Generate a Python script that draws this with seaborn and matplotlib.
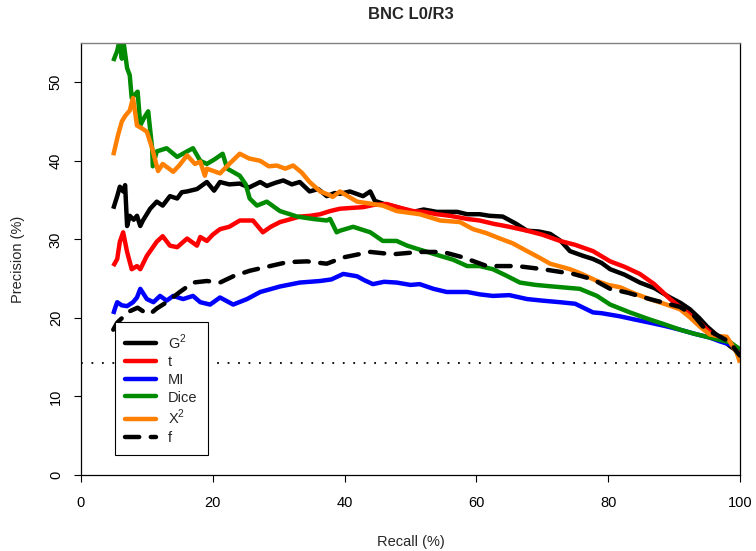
import matplotlib
matplotlib.use('Agg')
import matplotlib.pyplot as plt
from matplotlib.lines import Line2D
import seaborn as sns
import pandas as pd

# ── data (recall %, precision %) ────────────────────────────────────
g2_recall = [4.9, 5.5, 5.9, 6.4, 6.7, 7.0, 7.4, 8.0, 8.5, 9.0, 9.4, 10.5, 11.5, 12.4,
             13.5, 14.6, 15.3, 16.1, 17.6, 19.1, 20.2, 21.1, 22.5, 24.1, 25.5, 27.2,
             28.2, 29.5, 30.7, 32.0, 33.2, 34.7, 36.0, 37.3, 38.5, 39.3, 40.8, 42.8,
             43.9, 44.6, 46.0, 47.9, 50.4, 52.0, 54.0, 57.1, 58.6, 60.5, 62.0, 64.0,
             66.0, 67.7, 69.5, 71.2, 72.8, 74.2, 76.2, 77.7, 79.0, 80.3, 82.5, 84.8,
             87.0, 89.4, 91.0, 92.4, 93.8, 95.0, 96.5, 98.5, 99.7, 100]
g2_prec = [33.9, 35.5, 36.7, 36.1, 36.9, 31.7, 33.0, 32.5, 33.0, 31.7, 32.4, 33.9, 34.8,
           34.3, 35.5, 35.2, 36.0, 36.1, 36.4, 37.3, 36.2, 37.3, 37.0, 37.1, 36.6, 37.3,
           36.8, 37.2, 37.5, 37.0, 37.3, 36.1, 36.4, 35.5, 35.9, 35.8, 36.1, 35.5, 36.1,
           34.9, 34.5, 34.1, 33.5, 33.8, 33.5, 33.5, 33.2, 33.2, 33.0, 32.9, 32.0, 31.1,
           31.0, 30.7, 29.8, 28.5, 27.9, 27.5, 27.0, 26.2, 25.5, 24.5, 23.8, 22.6, 21.9,
           21.1, 20.0, 18.9, 17.8, 16.4, 15.7, 15.3]

t_recall = [4.9, 5.5, 5.9, 6.4, 7.0, 7.7, 8.5, 9.0, 10.0, 11.5, 12.4, 13.5, 14.6, 16.1,
            17.6, 18.1, 19.1, 20.0, 21.1, 22.5, 24.1, 26.1, 27.6, 28.8, 30.2, 31.5, 33.2,
            34.8, 36.3, 37.8, 39.3, 41.0, 42.8, 44.5, 46.4, 48.5, 50.4, 52.0, 54.0, 56.0,
            58.6, 60.5, 62.5, 65.0, 67.7, 70.0, 72.7, 75.0, 77.7, 80.3, 82.5, 84.8, 87.0,
            89.4, 91.5, 93.9, 95.4, 97.0, 98.5, 99.5, 100]
t_prec = [26.6, 27.5, 29.7, 30.9, 28.4, 26.2, 26.6, 26.2, 27.9, 29.7, 30.4, 29.2, 29.0,
          30.1, 29.2, 30.3, 29.8, 30.6, 31.3, 31.6, 32.4, 32.4, 30.9, 31.6, 32.2, 32.5,
          32.9, 33.0, 33.2, 33.6, 33.9, 34.0, 34.1, 34.4, 34.5, 34.0, 33.6, 33.5, 33.2,
          33.0, 32.6, 32.4, 32.0, 31.6, 31.1, 30.6, 29.8, 29.3, 28.5, 27.2, 26.5, 25.6,
          24.3, 22.4, 21.0, 19.4, 18.2, 17.5, 16.9, 16.0, 15.1]

mi_recall = [4.9, 5.2, 5.5, 6.2, 7.0, 7.9, 8.5, 9.0, 10.0, 11.0, 12.0, 13.0, 14.0, 15.5,
             17.0, 18.1, 19.6, 21.1, 23.1, 25.2, 27.2, 30.2, 33.2, 36.3, 38.0, 39.8, 41.9,
             43.0, 44.3, 46.0, 47.9, 50.0, 51.4, 53.5, 55.5, 58.6, 60.5, 62.5, 65.0, 67.7,
             70.0, 72.7, 75.0, 77.7, 79.0, 81.8, 84.0, 86.3, 88.5, 90.9, 93.0, 95.4, 97.0,
             98.5, 100]
mi_prec = [20.5, 21.3, 22.0, 21.6, 21.5, 22.0, 22.6, 23.7, 22.4, 22.0, 22.8, 22.2, 22.8,
           22.4, 22.8, 22.0, 21.7, 22.6, 21.7, 22.4, 23.3, 24.0, 24.5, 24.7, 24.9, 25.6,
           25.3, 24.8, 24.3, 24.6, 24.5, 24.2, 24.3, 23.7, 23.3, 23.3, 23.0, 22.8, 22.9,
           22.4, 22.2, 22.0, 21.8, 20.7, 20.6, 20.2, 19.8, 19.4, 19.0, 18.5, 18.0, 17.5,
           17.0, 16.6, 16.0]

dice_recall = [4.9, 5.5, 5.9, 6.2, 6.4, 7.0, 7.4, 7.7, 8.6, 9.0, 9.6, 10.2, 10.8, 10.9,
               11.5, 13.0, 14.6, 16.1, 17.0, 18.1, 19.1, 20.3, 21.5, 22.2, 24.1, 25.0,
               25.6, 26.7, 28.2, 30.2, 32.8, 35.2, 37.3, 37.8, 38.8, 39.3, 41.3, 43.9,
               45.8, 47.9, 49.5, 51.0, 54.5, 56.5, 58.6, 60.5, 62.5, 64.5, 66.6, 69.0,
               71.6, 75.7, 78.3, 80.3, 83.3, 86.3, 88.5, 90.9, 93.0, 95.4, 98.5, 100]
dice_prec = [52.7, 54.0, 55.5, 53.0, 55.5, 51.8, 50.9, 48.0, 48.8, 44.5, 45.5, 46.3, 41.6,
             39.3, 41.2, 41.6, 40.5, 41.2, 41.6, 40.0, 39.6, 40.2, 40.9, 39.0, 38.1, 37.0,
             35.2, 34.3, 34.8, 33.6, 32.9, 32.6, 32.4, 32.6, 30.9, 31.1, 31.6, 30.9, 29.8,
             29.8, 29.2, 28.8, 27.9, 27.4, 26.6, 26.6, 26.2, 25.4, 24.5, 24.2, 24.0, 23.7,
             22.8, 21.7, 20.7, 19.8, 19.2, 18.5, 18.0, 17.5, 16.9, 16.0]

x2_recall = [4.9, 5.6, 6.2, 6.7, 7.4, 7.9, 8.5, 9.3, 10.0, 10.8, 11.7, 12.4, 14.0, 15.0,
             16.1, 17.3, 18.1, 18.8, 19.1, 21.1, 22.5, 24.1, 25.5, 27.2, 28.5, 29.7, 31.0,
             32.2, 33.5, 34.7, 36.3, 37.8, 38.2, 39.3, 41.9, 43.5, 45.8, 47.9, 51.4, 54.5,
             57.5, 59.5, 61.5, 63.6, 65.5, 67.7, 69.5, 71.2, 74.2, 76.0, 78.3, 80.0, 81.8,
             84.0, 86.3, 88.5, 90.9, 92.5, 93.9, 95.4, 96.5, 98.0, 99.5, 100]
x2_prec = [40.7, 43.2, 45.0, 45.7, 46.4, 48.0, 44.5, 44.1, 43.7, 41.6, 38.7, 39.6, 38.6,
           39.5, 40.7, 39.6, 39.9, 38.1, 39.0, 38.4, 39.6, 40.9, 40.3, 40.0, 39.3, 39.4,
           39.0, 39.4, 38.5, 37.3, 36.1, 35.6, 35.4, 36.1, 34.8, 34.6, 34.3, 33.6, 33.2,
           32.4, 32.2, 31.3, 30.8, 30.1, 29.5, 28.5, 27.7, 26.9, 26.2, 25.6, 24.7, 24.2,
           23.9, 23.1, 22.4, 21.8, 21.1, 20.0, 18.9, 17.9, 17.7, 17.6, 15.6, 14.3]

f_recall = [4.9, 5.5, 6.5, 7.0, 8.6, 9.5, 10.5, 11.5, 13.0, 15.0, 17.0, 19.1, 21.1, 23.1,
            25.6, 28.7, 31.3, 34.3, 37.3, 39.8, 43.9, 47.3, 51.4, 54.9, 58.0, 61.6, 66.2,
            70.1, 74.7, 77.7, 80.3, 83.0, 86.3, 90.9, 93.0, 94.4, 95.4, 97.0, 98.5, 99.5, 100]
f_prec = [18.5, 19.4, 20.2, 20.7, 21.3, 20.8, 20.5, 21.2, 22.0, 23.3, 24.5, 24.7, 24.5,
          25.3, 26.0, 26.6, 27.1, 27.2, 26.9, 27.7, 28.4, 28.1, 28.4, 28.4, 27.7, 26.6,
          26.6, 26.2, 25.6, 24.9, 23.7, 23.2, 22.4, 21.4, 20.3, 18.9, 18.3, 17.6, 16.9,
          15.7, 15.2]

baseline = 14.3

measures = ['G$^2$', 't', 'MI', 'Dice', 'X$^2$', 'f']
colors = ['#000000', '#FF0000', '#0000FF', '#008B00', '#FF7F00', '#000000']
series = [(g2_recall, g2_prec), (t_recall, t_prec), (mi_recall, mi_prec),
          (dice_recall, dice_prec), (x2_recall, x2_prec), (f_recall, f_prec)]

# ── style ─────────────────────────────────────────────────
sns.set_style('white')
plt.rcParams['font.family'] = ['Liberation Sans', 'DejaVu Sans']
plt.rcParams['mathtext.fontset'] = 'custom'
plt.rcParams['mathtext.rm'] = 'Liberation Sans'

LW = 3.2
DASH = (0, (3.2, 2.6))
FS = 10.5

fig = plt.figure(figsize=(7.56, 5.51), dpi=100, facecolor='white')
ax = fig.add_axes([0.1071, 0.1379, 0.8717, 0.7841])

for name, col, (rx, py) in zip(measures, colors, series):
    df = pd.DataFrame({'Recall': rx, 'Precision': py})
    ls = DASH if name == 'f' else '-'
    sns.lineplot(data=df, x='Recall', y='Precision', color=col, linewidth=LW,
                 linestyle=ls, sort=False, estimator=None, ax=ax,
                 solid_capstyle='butt', dash_capstyle='round')

ax.axhline(baseline, color='black', linewidth=1.3, linestyle=(0, (1.0, 4.8)))

ax.set_xlim(0, 100)
ax.set_ylim(0, 55)
ax.set_xticks(range(0, 101, 20))
ax.set_yticks(range(0, 51, 10))
ax.tick_params(axis='both', direction='out', length=5, width=0.8, colors='black',
               labelsize=FS, bottom=True, left=True)
ax.tick_params(axis='x', pad=10)
ax.tick_params(axis='y', pad=8)
for lab in ax.get_yticklabels():
    lab.set_rotation(90)
    lab.set_va('center')

for side in ['left', 'bottom', 'right']:
    ax.spines[side].set_color('black')
    ax.spines[side].set_linewidth(0.9)
ax.spines['top'].set_color('#808080')
ax.spines['top'].set_linewidth(1.0)

ax.set_xlabel('Recall (%)', fontsize=FS, labelpad=18)
ax.set_ylabel('Precision (%)', fontsize=FS, labelpad=17)
ax.set_title('BNC L0/R3', fontsize=12, fontweight='bold', pad=17)

handles = [Line2D([], [], color=c, linewidth=LW,
                  linestyle=(DASH if m == 'f' else '-'), dash_capstyle='round')
           for m, c in zip(measures, colors)]
leg = ax.legend(handles, measures, loc='upper left', bbox_to_anchor=(0.0516, 0.354),
                borderaxespad=0, frameon=True, fancybox=False, framealpha=1,
                edgecolor='black', fontsize=FS, handlelength=2.1, handletextpad=0.85,
                labelspacing=0.25, borderpad=0.7)
leg.get_frame().set_linewidth(0.8)
leg.set_zorder(5)

fig.savefig('out.png', dpi=100, facecolor='white')
